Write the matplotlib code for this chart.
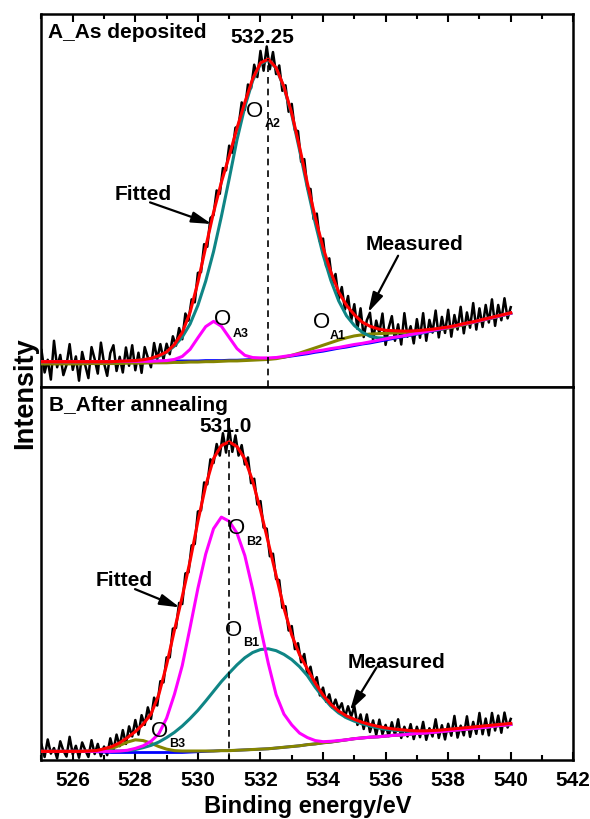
import numpy as np
import matplotlib
matplotlib.use("Agg")
import matplotlib.pyplot as plt
from matplotlib.ticker import MultipleLocator

plt.rcParams["font.family"] = ["Liberation Sans", "DejaVu Sans"]
plt.rcParams["font.weight"] = "bold"
plt.rcParams["axes.labelweight"] = "bold"

# binding energy grids, eV
E_meas = np.linspace(525.0, 540.0, 151)
E_fit = np.linspace(525.0, 540.0, 61)

# ---- A: as deposited (arbitrary intensity units) ----
meas_A = [9.9, 3.9, 7.3, 2.0, 12.4, 5.3, 8.6, 3.2, 5.9, 11.5,
          4.6, 8.2, 1.7, 9.4, 5.8, 2.4, 10.7, 7.5, 3.6, 11.9,
          6.4, 3.0, 9.1, 11.2, 4.3, 8.1, 3.9, 10.6, 5.7, 11.2,
          4.5, 9.2, 3.8, 10.7, 7.9, 5.3, 11.8, 7.5, 11.5, 7.4,
          11.6, 8.8, 13.6, 11.1, 15.8, 12.8, 19.7, 17.8, 23.5, 22.7,
          30.6, 30.8, 38.3, 37.6, 45.3, 46.1, 52.7, 51.8, 58.7, 58.1,
          64.7, 62.8, 69.5, 70.0, 76.3, 74.3, 81.1, 80.1, 86.4, 83.1,
          90.1, 84.8, 91.3, 85.2, 89.8, 83.9, 86.2, 79.4, 80.9, 73.8,
          75.9, 68.9, 68.6, 60.4, 61.1, 53.2, 53.1, 45.0, 46.5, 39.0,
          39.8, 32.4, 34.5, 27.8, 30.3, 23.5, 26.8, 20.8, 24.4, 17.8,
          22.2, 15.6, 21.1, 13.4, 17.9, 19.9, 12.6, 17.8, 14.5, 19.7,
          11.3, 15.9, 19.0, 12.4, 16.8, 11.4, 19.8, 13.5, 16.3, 11.7,
          18.2, 13.2, 19.8, 12.4, 18.0, 14.6, 20.5, 13.3, 18.8, 14.5,
          20.7, 13.5, 19.3, 15.4, 21.5, 14.4, 20.0, 15.9, 22.5, 15.4,
          21.1, 16.1, 22.0, 17.3, 23.5, 16.4, 22.0, 17.9, 23.8, 18.4,
          21.4]
bg_A = [6.8, 6.8, 6.8, 6.8, 6.8, 6.8, 6.8, 6.8, 6.8, 6.8, 6.8, 6.8,
        6.9, 6.9, 6.9, 6.9, 7.0, 7.0, 7.0, 7.0, 7.0, 7.1, 7.1, 7.1,
        7.2, 7.2, 7.3, 7.4, 7.5, 7.6, 7.8, 8.0, 8.3, 8.6, 8.9, 9.3,
        9.6, 10.0, 10.4, 10.7, 11.1, 11.5, 11.8, 12.2, 12.6, 13.0, 13.4, 13.8,
        14.2, 14.6, 15.0, 15.4, 15.9, 16.3, 16.8, 17.2, 17.7, 18.2, 18.7, 19.2,
        19.7]
oA3 = [6.8, 6.8, 6.8, 6.8, 6.8, 6.8, 6.8, 6.8, 6.8, 6.8, 6.9, 6.9,
       6.9, 6.9, 6.9, 7.0, 7.1, 7.4, 8.2, 10.1, 13.2, 16.2, 17.6, 16.3,
       13.3, 10.3, 8.5, 7.9, 7.8, 7.8, 7.9, 8.2, 8.5, 8.9, 9.2, 9.6,
       9.9, 10.3, 10.6, 11.0, 11.4, 11.7, 12.1, 12.5, 12.9, 13.3, 13.6, 14.0,
       14.4, 14.8, 15.2, 15.6, 16.0, 16.4, 16.9, 17.3, 17.8, 18.3, 18.8, 19.3,
       19.8]
oA2 = [6.8, 6.8, 6.8, 6.8, 6.8, 6.8, 6.8, 6.8, 6.8, 6.8, 6.8, 6.9,
       7.1, 7.3, 7.6, 8.2, 9.3, 11.0, 13.4, 16.9, 21.9, 28.4, 36.3, 45.7,
       55.8, 66.3, 75.1, 82.1, 86.6, 87.7, 85.5, 80.3, 73.0, 63.5, 53.4, 44.0,
       35.5, 28.6, 23.1, 19.1, 16.5, 14.7, 13.6, 13.2, 13.1, 13.3, 13.6, 13.9,
       14.3, 14.7, 15.1, 15.5, 16.0, 16.4, 16.9, 17.3, 17.8, 18.3, 18.8, 19.3,
       19.8]
oA1 = [6.2, 6.2, 6.2, 6.2, 6.2, 6.2, 6.3, 6.3, 6.3, 6.3, 6.3, 6.4,
       6.4, 6.4, 6.5, 6.5, 6.5, 6.6, 6.6, 6.7, 6.7, 6.8, 6.8, 6.9,
       7.0, 7.0, 7.1, 7.2, 7.3, 7.4, 7.6, 8.0, 8.5, 9.1, 9.8, 10.5,
       11.2, 11.9, 12.6, 13.2, 13.7, 14.0, 14.2, 14.3, 14.4, 14.5, 14.6, 14.7,
       14.8, 15.0, 15.2, 15.5, 15.8, 16.2, 16.7, 17.2, 17.7, 18.2, 18.7, 19.2,
       19.8]
fit_A = [6.8, 6.8, 6.8, 6.8, 6.8, 6.8, 6.8, 6.8, 6.8, 6.8, 6.9, 7.0,
         7.1, 7.3, 7.7, 8.4, 9.4, 11.4, 14.6, 20.0, 28.1, 37.5, 46.8, 54.9,
         61.9, 69.4, 76.3, 82.6, 86.9, 87.9, 85.6, 80.5, 73.4, 64.3, 54.6, 45.5,
         37.4, 30.8, 25.5, 21.9, 19.4, 17.4, 16.3, 15.6, 15.2, 15.1, 15.0, 15.0,
         15.1, 15.3, 15.5, 15.8, 16.1, 16.5, 17.0, 17.4, 17.9, 18.4, 18.9, 19.4,
         19.9]
peak_A = 532.25

# ---- B: after annealing ----
meas_B = [4.1, 0.8, 5.5, 1.7, 3.2, 0.4, 5.0, 2.5, 0.9, 6.2,
          1.5, 3.8, 0.6, 4.7, 2.6, 0.8, 5.3, 1.6, 4.3, 1.0,
          3.6, 1.3, 5.8, 2.6, 6.8, 3.7, 8.0, 4.3, 9.0, 6.3,
          10.7, 6.8, 12.0, 9.4, 14.1, 11.0, 16.7, 14.6, 21.1, 20.8,
          27.5, 27.5, 35.2, 35.4, 42.1, 41.8, 50.0, 50.3, 57.5, 57.9,
          66.6, 66.9, 74.4, 73.9, 80.6, 79.6, 84.7, 81.6, 87.6, 82.4,
          88.9, 82.6, 87.0, 81.6, 84.4, 79.2, 81.1, 74.2, 75.4, 68.5,
          69.4, 62.3, 62.0, 54.6, 55.3, 48.5, 48.2, 40.8, 41.2, 34.7,
          35.9, 29.7, 31.3, 26.2, 28.4, 22.9, 25.0, 20.5, 22.2, 17.3,
          19.4, 15.6, 17.6, 14.0, 16.2, 13.5, 15.2, 11.5, 14.4, 11.6,
          14.4, 9.4, 12.2, 8.3, 12.2, 7.5, 10.6, 6.7, 10.8, 6.9,
          9.4, 6.4, 10.1, 6.7, 10.9, 5.9, 8.9, 6.3, 9.6, 5.6,
          8.9, 6.1, 10.2, 5.4, 8.5, 6.3, 10.9, 5.9, 9.3, 5.5,
          9.7, 6.5, 11.8, 6.0, 9.2, 6.6, 11.7, 6.2, 10.2, 7.0,
          12.6, 6.9, 11.1, 6.6, 12.6, 7.9, 11.9, 7.3, 12.7, 8.7,
          11.0]
bg_B = [2.3, 2.3, 2.3, 2.3, 2.3, 2.3, 2.3, 2.2, 2.1, 2.0, 2.0, 2.0,
        2.0, 2.0, 2.0, 2.0, 2.0, 2.0, 2.0, 2.1, 2.2, 2.3, 2.4, 2.5,
        2.5, 2.6, 2.7, 2.8, 2.9, 3.0, 3.2, 3.4, 3.6, 3.8, 4.1, 4.3,
        4.6, 4.8, 5.1, 5.4, 5.7, 5.9, 6.1, 6.2, 6.4, 6.6, 6.7, 6.9,
        7.1, 7.2, 7.4, 7.6, 7.8, 8.0, 8.2, 8.4, 8.6, 8.8, 9.1, 9.3,
        9.5]
oB3 = [2.3, 2.3, 2.3, 2.3, 2.3, 2.3, 2.3, 2.4, 2.6, 3.1, 3.9, 4.8,
       5.4, 5.2, 4.5, 3.6, 2.9, 2.5, 2.4, 2.4, 2.4, 2.4, 2.4, 2.5,
       2.5, 2.6, 2.7, 2.8, 2.9, 3.0, 3.2, 3.4, 3.6, 3.8, 4.1, 4.3,
       4.6, 4.8, 5.1, 5.4, 5.7, 5.9, 6.1, 6.2, 6.4, 6.6, 6.7, 6.9,
       7.1, 7.2, 7.4, 7.6, 7.8, 8.0, 8.2, 8.4, 8.6, 8.8, 9.1, 9.3,
       9.5]
oB2 = [2.3, 2.3, 2.3, 2.3, 2.3, 2.3, 2.3, 2.3, 2.3, 2.3, 2.4, 2.6,
       3.1, 3.8, 5.0, 7.0, 11.2, 17.6, 25.3, 35.5, 46.0, 55.2, 62.0, 65.1,
       64.0, 60.8, 54.8, 45.8, 35.5, 25.9, 17.5, 12.3, 9.4, 7.2, 6.0, 5.2,
       4.9, 5.0, 5.2, 5.4, 5.7, 5.9, 6.1, 6.2, 6.4, 6.6, 6.7, 6.9,
       7.1, 7.2, 7.4, 7.6, 7.8, 8.0, 8.2, 8.4, 8.6, 8.8, 9.1, 9.3,
       9.5]
oB1 = [2.3, 2.3, 2.3, 2.3, 2.3, 2.3, 2.3, 2.3, 2.3, 2.4, 2.4, 2.5,
       2.8, 3.3, 3.9, 4.8, 6.0, 7.4, 9.1, 11.1, 13.3, 15.8, 18.4, 21.0,
       23.3, 25.5, 27.4, 28.8, 29.6, 29.8, 29.3, 28.3, 26.9, 25.0, 22.6, 19.5,
       16.8, 14.4, 12.6, 11.3, 10.4, 9.7, 9.1, 8.6, 8.2, 8.0, 7.8, 7.7,
       7.6, 7.7, 7.8, 7.9, 8.1, 8.3, 8.5, 8.7, 8.9, 9.1, 9.3, 9.5,
       9.7]
fit_B = [2.3, 2.3, 2.3, 2.3, 2.3, 2.3, 2.4, 2.5, 3.0, 3.6, 4.6, 6.0,
         7.6, 9.6, 12.3, 17.5, 25.5, 34.8, 43.8, 53.3, 64.0, 73.5, 80.8, 84.3,
         85.3, 84.0, 80.7, 74.8, 67.0, 58.3, 49.5, 40.7, 33.5, 28.2, 24.4, 20.6,
         17.4, 14.9, 13.1, 11.8, 10.9, 10.1, 9.5, 9.0, 8.6, 8.3, 8.1, 7.9,
         7.8, 7.8, 7.9, 8.0, 8.2, 8.4, 8.6, 8.8, 9.0, 9.2, 9.4, 9.6,
         9.8]
peak_B = 531.0

RED = "#ff0000"
CYAN = "#0f8585"
MAG = "#ff00ff"
OLIVE = "#858500"
BLUE = "#0000ff"


def draw_panel(ax, meas, bg, c1, c2, c3, fit, peak):
    ax.plot(E_meas, meas, color="black", lw=1.8, zorder=1)
    ax.plot(E_fit, bg, color=BLUE, lw=2.0, zorder=2)
    ax.plot(E_fit, c3, color=OLIVE, lw=2.2, zorder=3)
    ax.plot(E_fit, c1, color=CYAN, lw=2.2, zorder=4)
    ax.plot(E_fit, c2, color=MAG, lw=2.2, zorder=5)
    ax.plot(E_fit, fit, color=RED, lw=2.2, zorder=6)
    ax.vlines(peak, 0, max(fit), colors="black", linestyles=(0, (4, 3)), lw=1.2, zorder=7)
    ax.set_xlim(525, 542)
    ax.set_ylim(0, 100)
    ax.set_yticks([])
    ax.xaxis.set_major_locator(MultipleLocator(2))
    ax.xaxis.set_minor_locator(MultipleLocator(1))
    ax.tick_params(axis="x", which="major", direction="in", length=6, width=1.5)
    ax.tick_params(axis="x", which="minor", direction="in", length=3.5, width=1.5)
    for s in ax.spines.values():
        s.set_linewidth(1.8)


def o_label(ax, xy, sub, sub_xy):
    ax.text(*xy, "O", fontsize=16, fontweight="normal", ha="center", va="center", zorder=8)
    ax.text(*sub_xy, sub, fontsize=9, ha="center", va="center", zorder=8)


arrow = dict(arrowstyle="-|>,head_length=0.8,head_width=0.22", color="black",
             lw=1.6, mutation_scale=15, shrinkA=0, shrinkB=0)

fig = plt.figure(figsize=(5.9, 8.2), dpi=100)
axA = fig.add_axes([0.0703, 0.5268, 0.9014, 0.4549])
axB = fig.add_axes([0.0703, 0.0720, 0.9014, 0.4549])

# panel A
draw_panel(axA, meas_A, bg_A, oA2, oA3, oA1, fit_A, peak_A)
axA.tick_params(axis="x", which="both", top=True, bottom=False,
                labelbottom=False, labeltop=False)
axA.text(0.012, 0.952, "A_As deposited", transform=axA.transAxes,
         fontsize=15, ha="left", va="center")
axA.text(532.06, 94.1, f"{peak_A:.2f}", fontsize=15, ha="center", va="center")
o_label(axA, (531.82, 74.1), "A2", (532.38, 70.8))
o_label(axA, (530.79, 18.4), "A3", (531.36, 14.6))
o_label(axA, (533.95, 17.5), "A1", (534.46, 14.0))
axA.text(528.25, 52.0, "Fitted", fontsize=15, ha="center", va="center")
axA.annotate("", xy=(530.44, 43.7), xytext=(528.47, 49.5), arrowprops=arrow)
axA.text(536.93, 38.5, "Measured", fontsize=15, ha="center", va="center")
axA.annotate("", xy=(535.44, 20.0), xytext=(536.4, 35.2), arrowprops=arrow)

# panel B
draw_panel(axB, meas_B, bg_B, oB1, oB2, oB3, fit_B, peak_B)
axB.tick_params(axis="x", which="both", top=False, bottom=True,
                labelsize=15, pad=7)
axB.text(0.0146, 0.954, "B_After annealing", transform=axB.transAxes,
         fontsize=15, ha="left", va="center")
axB.text(530.9, 89.6, f"{peak_B:.1f}", fontsize=15, ha="center", va="center")
o_label(axB, (531.24, 62.2), "B2", (531.8, 58.6))
o_label(axB, (531.13, 35.1), "B1", (531.69, 31.6))
o_label(axB, (528.77, 7.9), "B3", (529.34, 4.5))
axB.text(527.64, 48.5, "Fitted", fontsize=15, ha="center", va="center")
axB.annotate("", xy=(529.42, 40.9), xytext=(527.99, 45.8), arrowprops=arrow)
axB.text(536.35, 26.4, "Measured", fontsize=15, ha="center", va="center")
axB.annotate("", xy=(534.86, 13.2), xytext=(535.71, 24.8), arrowprops=arrow)
axB.set_xlabel("Binding energy/eV", fontsize=17, fontweight="bold", labelpad=4)

fig.text(0.042, 0.521, "Intensity", rotation=90, fontsize=19.5,
         ha="center", va="center")

fig.savefig("out.png", dpi=100)
